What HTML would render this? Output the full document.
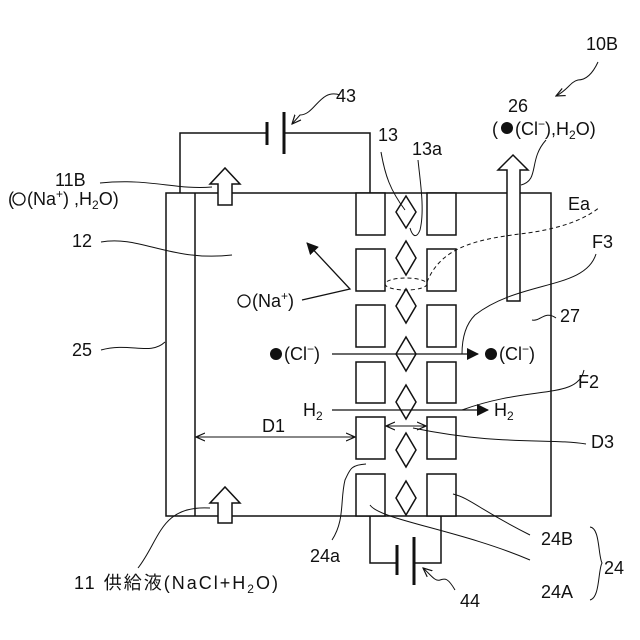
<!DOCTYPE html>
<html><head><meta charset="utf-8"><style>
html,body{margin:0;padding:0;background:#fff}
svg{display:block}
text{font-family:"Liberation Sans","Noto Sans CJK JP",sans-serif;fill:#111}
</style></head><body>
<svg width="640" height="640" viewBox="0 0 640 640" xmlns="http://www.w3.org/2000/svg">
<defs><marker id="ah" markerWidth="12" markerHeight="12" refX="11" refY="6" orient="auto" markerUnits="userSpaceOnUse"><path d="M0,0 L12,6 L0,12 z" fill="#111"/></marker>
<marker id="oa" markerWidth="10" markerHeight="10" refX="9" refY="5" orient="auto" markerUnits="userSpaceOnUse"><path d="M0,1 L9,5 L0,9" fill="none" stroke="#111" stroke-width="1.2"/></marker>
<marker id="os" markerWidth="10" markerHeight="10" refX="1" refY="5" orient="auto" markerUnits="userSpaceOnUse"><path d="M10,1 L1,5 L10,9" fill="none" stroke="#111" stroke-width="1.2"/></marker></defs>
<g fill="none" stroke="#111" stroke-width="1.5">
<rect x="166" y="193" width="385" height="323" fill="#fff"/>
<line x1="195" y1="193" x2="195" y2="516"/>
<polyline points="180,193 180,133 267,133"/>
<polyline points="284,133 370,133 370,193"/>
<line x1="267" y1="122" x2="267" y2="145" stroke-width="3"/>
<line x1="284" y1="112" x2="284" y2="154" stroke-width="3"/>
<polyline points="370,516 370,563 397,563"/>
<polyline points="414,563 441,563 441,516"/>
<line x1="397" y1="545" x2="397" y2="575" stroke-width="3"/>
<line x1="414" y1="537" x2="414" y2="585" stroke-width="3"/>
<g fill="#fff">
<rect x="356" y="193" width="29" height="42"/><rect x="427" y="193" width="29" height="42"/>
<rect x="356" y="249" width="29" height="42"/><rect x="427" y="249" width="29" height="42"/>
<rect x="356" y="305" width="29" height="42"/><rect x="427" y="305" width="29" height="42"/>
<rect x="356" y="362" width="29" height="41"/><rect x="427" y="362" width="29" height="41"/>
<rect x="356" y="417" width="29" height="42"/><rect x="427" y="417" width="29" height="42"/>
<rect x="356" y="474" width="29" height="42"/><rect x="427" y="474" width="29" height="42"/>
</g>
<g fill="#fff">
<path d="M406,196 L416,212 L406,228 L396,212 z"/>
<path d="M406,241 L416,258 L406,275 L396,258 z"/>
<path d="M406,289 L416,306 L406,323 L396,306 z"/>
<path d="M406,337 L416,354 L406,371 L396,354 z"/>
<path d="M406,385 L416,402 L406,419 L396,402 z"/>
<path d="M406,433 L416,450 L406,467 L396,450 z"/>
<path d="M406,481 L416,498 L406,515 L396,498 z"/>
</g>
<path d="M218,205 L218,184 L210,184 L225,168 L240,184 L232,184 L232,205 z" fill="#fff"/>
<path d="M218,523 L218,503 L210,503 L225,487 L240,503 L232,503 L232,523 z" fill="#fff"/>
<path d="M507,301 L507,170 L498,170 L513,155 L528,170 L520,170 L520,301 z" fill="#fff"/>
<line x1="332" y1="354" x2="478" y2="354" stroke-width="1.3" marker-end="url(#ah)"/>
<line x1="332" y1="410" x2="488" y2="410" stroke-width="1.3" marker-end="url(#ah)"/>
<polyline points="302,300 350,289 307,243" stroke-width="1.3" marker-end="url(#ah)"/>
<line x1="196" y1="437" x2="355" y2="437" stroke-width="1" marker-start="url(#os)" marker-end="url(#oa)"/>
<line x1="386" y1="426" x2="426" y2="426" stroke-width="1" marker-start="url(#os)" marker-end="url(#oa)"/>
<ellipse cx="406" cy="284" rx="21" ry="6" stroke-width="1" stroke-dasharray="4,3"/>
<path d="M427,282 C440,250 470,240 520,234 C570,228 590,215 600,207" stroke-width="1" stroke-dasharray="4,3"/>
<g stroke-width="1">
<path d="M100,183 C150,178 175,190 212,187"/>
<path d="M101,242 C140,235 170,262 232,255"/>
<path d="M101,350 C130,342 150,356 165,342"/>
<path d="M138,568 C160,540 160,505 210,508"/>
<path d="M381,152 C385,175 390,190 405,210"/>
<path d="M418,160 C420,180 425,210 420,230 C416,240 412,235 410,228"/>
<path d="M521,185 C540,180 528,160 546,140"/>
<path d="M340,95 C320,88 315,115 300,115 L292,124" marker-end="url(#oa)"/>
<path d="M598,62 C592,75 585,80 578,80 C570,82 568,90 556,96" marker-end="url(#oa)"/>
<path d="M596,254 C585,290 520,280 475,315 C465,325 462,340 462,354"/>
<path d="M584,370 C578,400 530,385 462,410"/>
<path d="M556,318 C545,310 540,322 532,320"/>
<path d="M586,444 C550,438 500,446 413,428"/>
<path d="M366,464 C350,465 350,470 345,480 C340,500 345,520 332,540"/>
<path d="M370,505 C380,520 460,530 530,560"/>
<path d="M453,494 C470,498 480,510 530,535"/>
<path d="M455,590 C448,578 445,578 440,580 C435,582 430,574 423,568" marker-end="url(#oa)"/>
<path d="M590,527 C600,528 598,555 602,563 C598,570 600,598 590,600"/>
</g>
</g>
<circle cx="276" cy="354" r="6" fill="#111"/>
<circle cx="491" cy="354" r="6" fill="#111"/>
<circle cx="507" cy="128" r="6" fill="#111"/>
<circle cx="19" cy="199" r="6" fill="none" stroke="#111" stroke-width="1.3"/>
<circle cx="244" cy="301" r="6" fill="none" stroke="#111" stroke-width="1.3"/>
<g font-size="18">
<text x="586" y="50">10B</text>
<text x="336" y="102">43</text>
<text x="508" y="112">26</text>
<text x="492" y="135">(</text><text x="515" y="135">(Cl<tspan font-size="12" dy="-7">−</tspan><tspan dy="7">),H</tspan><tspan font-size="12" dy="4">2</tspan><tspan dy="-4">O)</tspan></text>
<text x="378" y="141">13</text>
<text x="412" y="155">13a</text>
<text x="55" y="186">11B</text>
<text x="8" y="205">(</text><text x="27" y="205">(Na<tspan font-size="12" dy="-7">+</tspan><tspan dy="7">) ,H</tspan><tspan font-size="12" dy="4">2</tspan><tspan dy="-4">O)</tspan></text>
<text x="568" y="210">Ea</text>
<text x="72" y="247">12</text>
<text x="592" y="248">F3</text>
<text x="252" y="307">(Na<tspan font-size="12" dy="-7">+</tspan><tspan dy="7">)</tspan></text>
<text x="560" y="322">27</text>
<text x="72" y="356">25</text>
<text x="284" y="360">(Cl<tspan font-size="12" dy="-7">−</tspan><tspan dy="7">)</tspan></text>
<text x="499" y="360">(Cl<tspan font-size="12" dy="-7">−</tspan><tspan dy="7">)</tspan></text>
<text x="578" y="388">F2</text>
<text x="303" y="416">H<tspan font-size="12" dy="4">2</tspan></text>
<text x="494" y="416">H<tspan font-size="12" dy="4">2</tspan></text>
<text x="262" y="432">D1</text>
<text x="591" y="448">D3</text>
<text x="310" y="562">24a</text>
<text x="541" y="545">24B</text>
<text x="604" y="574">24</text>
<text x="541" y="598">24A</text>
<text x="460" y="607">44</text>
<text x="74" y="589" textLength="204" lengthAdjust="spacing">11 供給液(NaCl+H<tspan font-size="12" dy="4">2</tspan><tspan dy="-4">O)</tspan></text>
</g>
</svg>
</body></html>
